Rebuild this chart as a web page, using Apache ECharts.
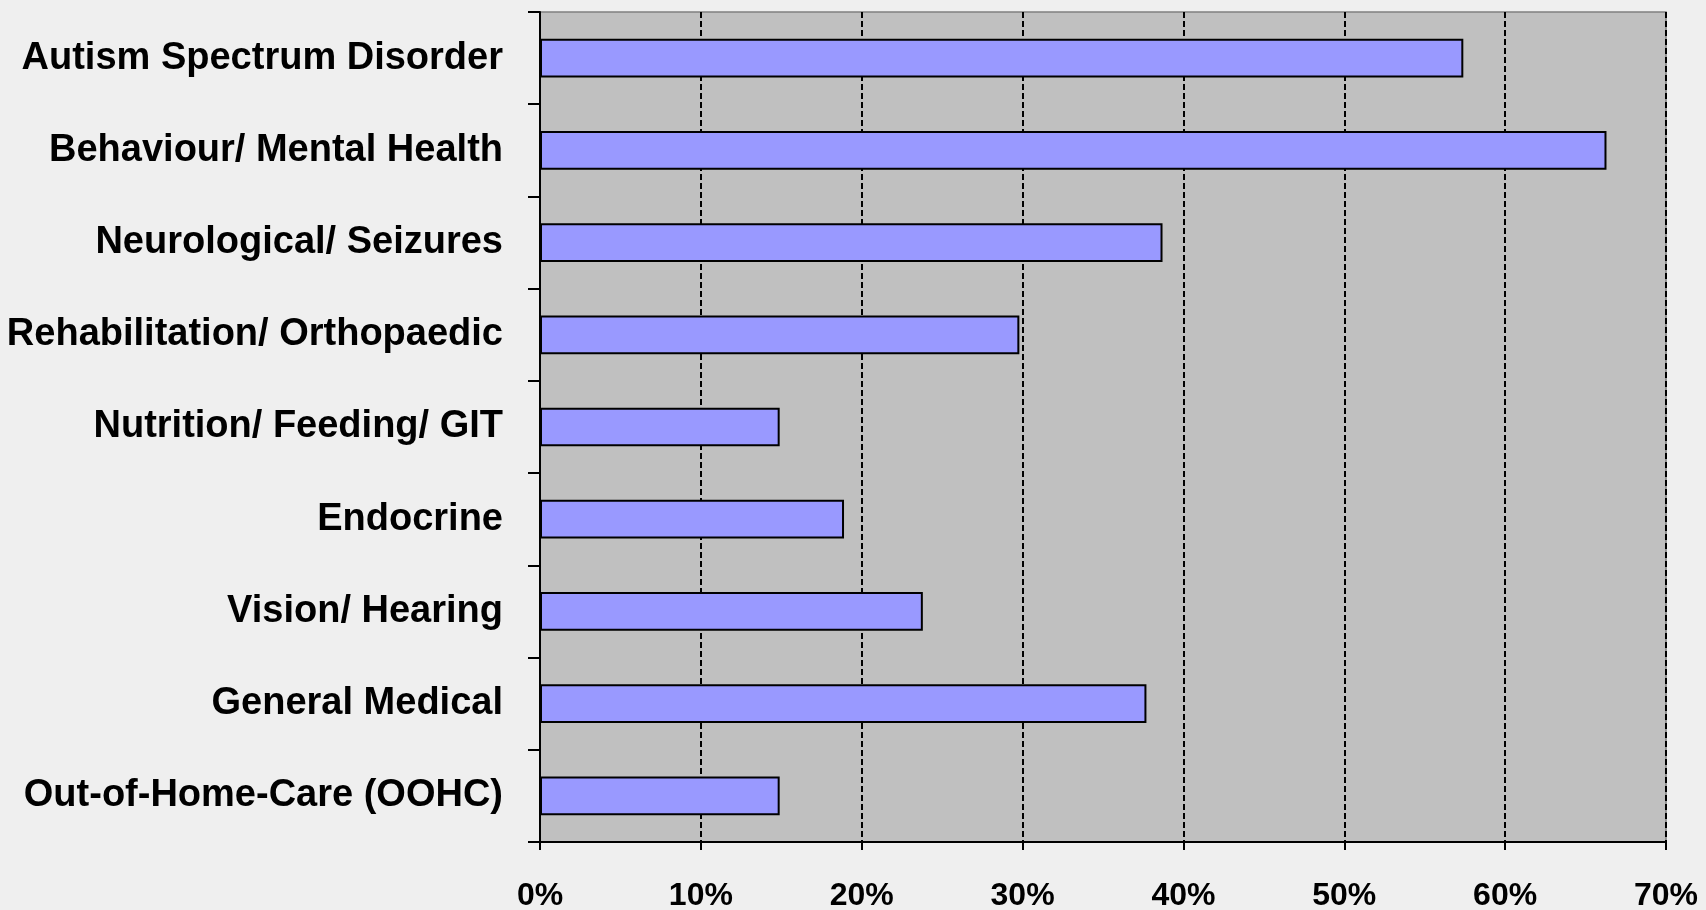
<!DOCTYPE html>
<html>
<head>
<meta charset="utf-8">
<script src="https://cdn.jsdelivr.net/npm/echarts@6/dist/echarts.min.js"></script>
<style>
html,body{margin:0;padding:0;background:#EFEFEF;}
#chart{width:1706px;height:910px;}
</style>
</head>
<body>
<div id="chart"></div>
<script>
var categories = ['Autism Spectrum Disorder','Behaviour/ Mental Health','Neurological/ Seizures','Rehabilitation/ Orthopaedic','Nutrition/ Feeding/ GIT','Endocrine','Vision/ Hearing','General Medical','Out-of-Home-Care (OOHC)'];
var values = [57.4, 66.3, 38.7, 29.8, 14.9, 18.9, 23.8, 37.7, 14.9];
var xTicks = {min: 0, max: 70, interval: 10};

var chart = echarts.init(document.getElementById('chart'));
chart.setOption({
  backgroundColor: '#EFEFEF',
  animation: false,
  grid: {
    left: 540, right: 40, top: 12, bottom: 68,
    containLabel: false, outerBoundsMode: 'none',
    show: true, backgroundColor: '#C0C0C0', borderColor: '#808080', borderWidth: 1.5
  },
  xAxis: {
    type: 'value',
    min: xTicks.min, max: xTicks.max, interval: xTicks.interval,
    axisLine: {show: true, onZero: false, lineStyle: {color: '#000', width: 2}},
    axisTick: {show: true, length: 8, lineStyle: {color: '#000', width: 2}},
    axisLabel: {
      formatter: '{value}%', margin: 38,
      fontFamily: 'Liberation Sans, Arial, sans-serif', fontWeight: 'bold', fontSize: 32, color: '#000'
    },
    splitLine: {show: true, lineStyle: {color: '#000', width: 2, type: [6, 3]}}
  },
  yAxis: {
    type: 'category',
    data: categories,
    inverse: true,
    axisLine: {show: true, lineStyle: {color: '#000', width: 2}},
    axisTick: {show: true, length: 12, lineStyle: {color: '#000', width: 2}},
    axisLabel: {
      margin: 37,
      fontFamily: 'Liberation Sans, Arial, sans-serif', fontWeight: 'bold', fontSize: 38, color: '#000'
    },
    splitLine: {show: false}
  },
  series: [{
    type: 'bar',
    data: values,
    barCategoryGap: '58%',
    itemStyle: {color: '#9999FF', borderColor: '#000', borderWidth: 2}
  }]
});
</script>
</body>
</html>
